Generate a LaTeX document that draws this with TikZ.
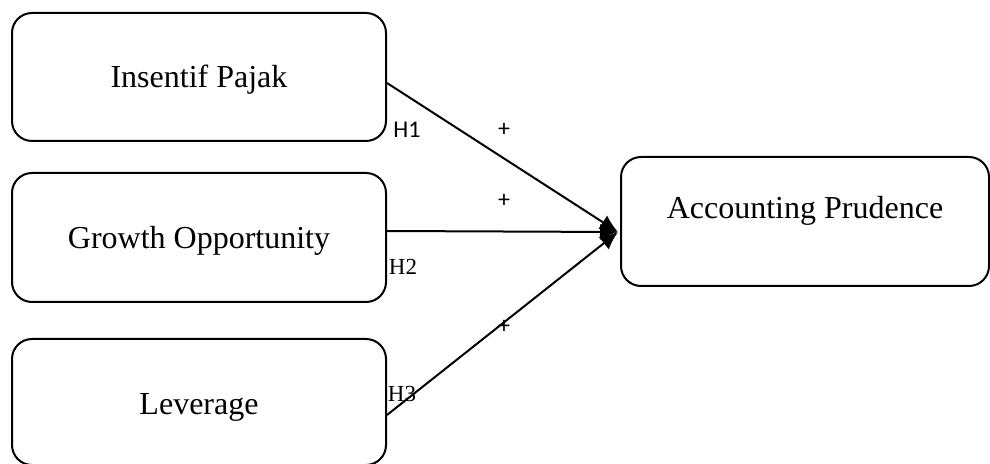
\documentclass[tikz,border=0pt]{standalone}
\usepackage{fontspec}
\setmainfont{Liberation Serif}
\newfontfamily\calibrifont{Carlito}
\usetikzlibrary{arrows.meta}

\tikzset{
  varbox/.style={draw, line width=1pt, rounded corners=10pt, inner sep=0pt,
    minimum width=187pt, font=\fontsize{16}{19}\selectfont},
  boxtext/.style={font=\rmfamily\fontsize{16}{19}\selectfont, inner sep=0pt},
  link/.style={line width=1pt, -{Latex[length=9pt,width=8pt]}},
  hsans/.style={font=\calibrifont\fontsize{12}{14}\selectfont, inner sep=0pt},
  hserif/.style={font=\rmfamily\fontsize{11.5}{13}\selectfont, inner sep=0pt},
}

\begin{document}
\begin{tikzpicture}[x=0.5pt, y=-0.5pt]
  \useasboundingbox (0,0) rectangle (990,464);

  % independent variables
  \node[varbox, minimum height=64pt,
        label={[boxtext, yshift=-1.5pt]center:Insentif Pajak}] (ip) at (199,77) {};
  \node[varbox, minimum height=64.5pt,
        label={[boxtext, yshift=-1.5pt]center:Growth Opportunity}] (go) at (199,237.5) {};
  \node[varbox, minimum height=63pt,
        label={[boxtext, yshift=-2.5pt]center:Leverage}] (lev) at (199,402) {};

  % dependent variable
  \node[varbox, minimum width=184pt, minimum height=64.5pt,
        label={[boxtext, yshift=5.5pt]center:Accounting Prudence}] (ap) at (805,221.5) {};

  % hypothesised paths
  \draw[link] ([yshift=-3pt]ip.east) -- ([xshift=-1pt,yshift=-5.25pt]ap.west);
  \draw[link] ([yshift=3.25pt]go.east) -- ([xshift=-1pt,yshift=-5.25pt]ap.west);
  \draw[link] ([yshift=-6.5pt]lev.east) -- ([xshift=-1pt,yshift=-5.25pt]ap.west);

  % hypothesis labels and signs
  \node[hsans] (h1) at (407,130) {H1};
  \node[hsans] (p1) at (504,130) {+};
  \node[hsans] (p2) at (504,201) {+};
  \node[hserif] (h2) at (403,267) {H2};
  \node[hsans] (p3) at (504,327) {+};
  \node[hserif] (h3) at (402,394) {H3};
\end{tikzpicture}
\end{document}
